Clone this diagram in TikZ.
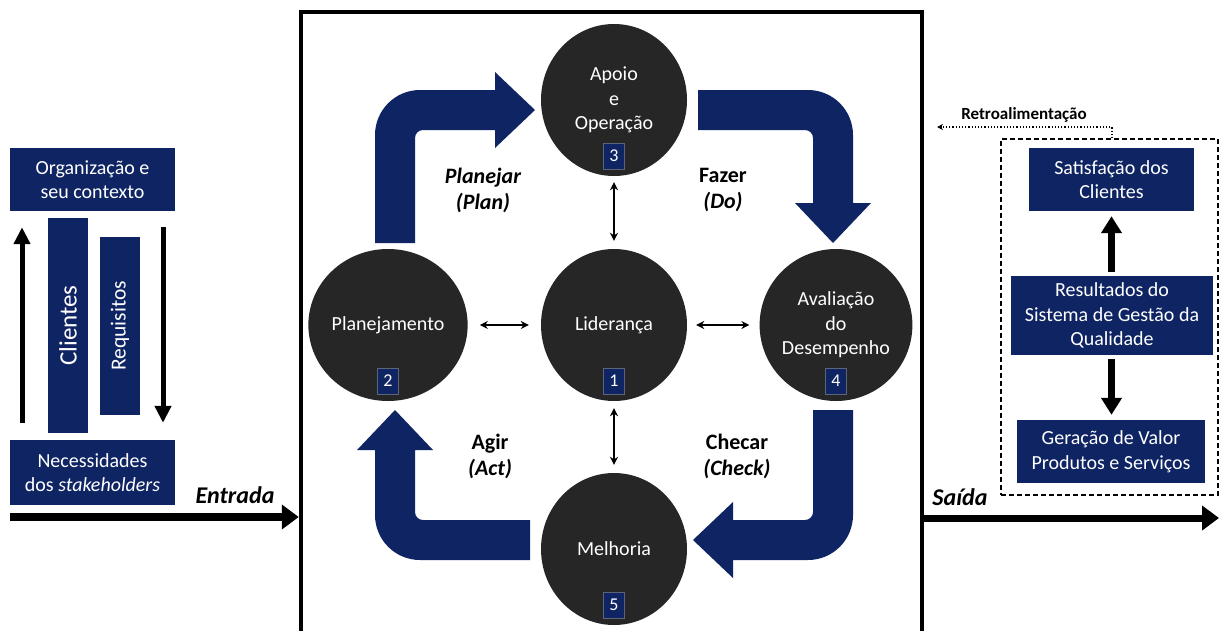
\documentclass[tikz,border=0pt]{standalone}
\usepackage{fontspec}
\setmainfont{Carlito}
\usetikzlibrary{arrows.meta,shapes.geometric,calc}
\definecolor{navy}{RGB}{15,36,99}
\definecolor{circgray}{RGB}{38,38,38}
\begin{document}
\begin{tikzpicture}[x=1pt,y=-1pt,
  disc/.style={ellipse, fill=circgray, minimum width=146, minimum height=152, inner sep=0, text=white, align=center, font=\fontsize{20}{24.5}\selectfont},
  numbox/.style={fill=navy, draw=gray!70!navy, line width=0.6, minimum width=21, minimum height=26, inner sep=0, text=white, font=\fontsize{18}{20}\selectfont},
  bluebox/.style={fill=navy, text=white, align=center, inner sep=0, font=\fontsize{20}{24.5}\selectfont},
  lbl/.style={font=\fontsize{22}{26}\selectfont\bfseries, align=center},
  dbl/.style={{Stealth[length=8,width=8]}-{Stealth[length=8,width=8]}, line width=1.5},
  leftarrow/.style={line width=5, -{Triangle[length=17,width=16]}},
  rightarrow/.style={line width=7, -{Triangle[length=17,width=20]}},
  mainarrow/.style={-{Triangle[length=17,width=24]}},
  bigarrow/.style={fill=navy}
]
\useasboundingbox (0,0) rectangle (1220,630);
\clip (0,0) rectangle (1220,630);
\fill[white] (0,0) rectangle (1220,630);

% main frame
\node[draw, line width=4.5, minimum width=621, minimum height=660, inner sep=0] (frame) at (611.5,342) {};

% circles
\node[disc] (apo) at (614,100) {Apoio\\e\\Operação};
\node[disc] (pla) at (388,325) {Planejamento};
\node[disc] (lid) at (614,325) {Liderança};
\node[disc] (ava) at (836,325) {Avaliação\\do\\Desempenho};
\node[disc] (mel) at (614,549) {Melhoria};

\node[numbox] (n3) at ($(apo)+(0,56)$) {3};
\node[numbox] (n2) at ($(pla)+(0,56)$) {2};
\node[numbox] (n1) at ($(lid)+(0,56)$) {1};
\node[numbox] (n4) at ($(ava)+(0,56)$) {4};
\node[numbox] (n5) at ($(mel)+(0,56)$) {5};

% small double arrows
\draw[dbl, shorten <=6, shorten >=8] (apo) -- (lid);
\draw[dbl, shorten <=7, shorten >=8] (lid) -- (mel);
\draw[dbl, shorten <=12, shorten >=12] (pla) -- (lid);
\draw[dbl, shorten <=9, shorten >=10] (lid) -- (ava);

% big blue arrows
\fill[bigarrow] (375,243) -- (375,135) .. controls (375,110.15) and (395.15,90) .. (420,90)
  -- (495,90) -- (495,72) -- (535,110) -- (495,148) -- (495,130) -- (423,130)
  .. controls (418.58,130) and (415,133.58) .. (415,138) -- (415,243) -- cycle;
\fill[bigarrow] (698,90) -- (808,90) .. controls (832.85,90) and (853,110.15) .. (853,135)
  -- (853,203) -- (871,203) -- (833,243) -- (795,203) -- (813,203) -- (813,138)
  .. controls (813,133.58) and (809.42,130) .. (805,130) -- (698,130) -- cycle;
\fill[bigarrow] (813,410) -- (853,410) -- (853,515) .. controls (853,539.85) and (832.85,560) .. (808,560)
  -- (733,560) -- (733,578) -- (693,540) -- (733,502) -- (733,520) -- (805,520)
  .. controls (809.42,520) and (813,516.42) .. (813,512) -- cycle;
\fill[bigarrow] (530,560) -- (420,560) .. controls (395.15,560) and (375,539.85) .. (375,515)
  -- (375,450) -- (357,450) -- (395,410) -- (433,450) -- (415,450) -- (415,512)
  .. controls (415,516.42) and (418.58,520) .. (423,520) -- (530,520) -- cycle;

% cycle labels
\node[lbl] (lplan) at (483,190) {\itshape Planejar\\\itshape (Plan)};
\node[lbl] (lfaz) at (723,190) {Fazer\\\itshape (Do)};
\node[lbl] (lagir) at (490,456) {Agir\\\itshape (Act)};
\node[lbl] (lchk) at (737,456) {Checar\\\itshape (Check)};

% left column
\node[bluebox, minimum width=165, minimum height=63] (org) at (92.5,179.5) {Organização e\\seu contexto};
\node[bluebox, minimum width=165, minimum height=65] (nec) at (92.5,472.5) {Necessidades\\dos \textit{stakeholders}};
\node[bluebox, rotate=90, minimum width=215, minimum height=40, font=\fontsize{25}{28}\selectfont] (cli) at (68,325.5) {Clientes};
\node[bluebox, rotate=90, minimum width=178, minimum height=40, font=\fontsize{21.5}{24}\selectfont] (req) at (120,326) {Requisitos};
\coordinate (lx) at (22,0);
\coordinate (rx) at (163,0);
\draw[leftarrow, shorten <=17, shorten >=16] (nec.north -| lx) -- (org.south -| lx);
\draw[leftarrow, shorten <=16, shorten >=17] (org.south -| rx) -- (nec.north -| rx);

% entrada
\coordinate (ein) at (10,517);
\draw[line width=8, mainarrow] (ein) -- (ein -| frame.west);
\node[font=\fontsize{24}{28}\selectfont\bfseries\itshape] (ent) at (235,495) {Entrada};

% right column
\node[draw, line width=1.5, dash pattern=on 5pt off 3pt, minimum width=217, minimum height=356, inner sep=0] (fb) at (1109.5,317) {};
\node[bluebox, minimum width=165, minimum height=63] (sat) at (1111.5,179.5) {Satisfação dos\\Clientes};
\node[bluebox, minimum width=202, minimum height=79] (res) at (1112,315.5) {Resultados do\\Sistema de Gestão da\\Qualidade};
\node[bluebox, minimum width=188, minimum height=63] (ger) at (1111,451.5) {Geração de Valor\\Produtos e Serviços};
\draw[rightarrow, shorten <=4, shorten >=5] (res.north -| sat) -- (sat.south);
\draw[rightarrow, shorten <=4, shorten >=5] (res.south -| sat) -- (ger.north -| sat);

% retroalimentacao
\node[font=\fontsize{17}{20}\selectfont\bfseries] (retro) at (1024,115) {Retroalimentação};
\coordinate (rb) at (1112,127);
\coordinate (re) at (937,127);
\draw[line width=1.2, dotted, -{Stealth[length=6,width=6]}] (fb.north -| rb) -- (rb) -- (re);

% saida
\coordinate (sout) at (1219,518);
\draw[line width=7, mainarrow] (frame.east |- sout) -- (sout);
\node[font=\fontsize{24}{28}\selectfont\bfseries\itshape] (sai) at (960,497) {Saída};
\end{tikzpicture}
\end{document}
